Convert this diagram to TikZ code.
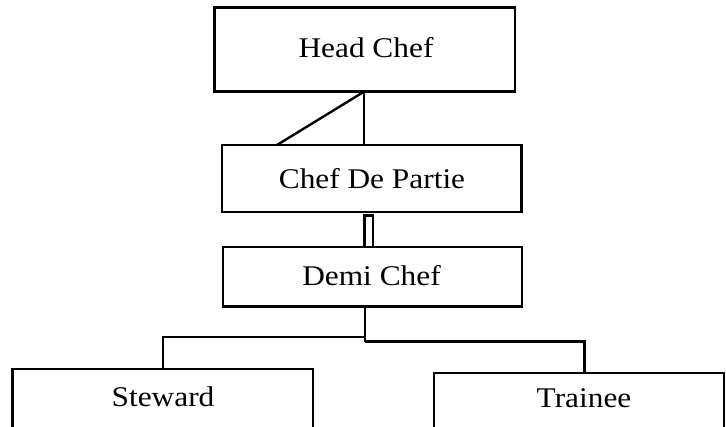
\documentclass[tikz,border=0pt]{standalone}
\usepackage{fontspec}
\setmainfont{Liberation Serif}[FakeStretch=1.1]
\begin{document}
\begin{tikzpicture}[x=1pt,y=-1pt,
  box/.style={draw=black, line width=2.4pt, inner sep=0pt, rectangle},
  lbl/.style={anchor=base, inner sep=0pt, font=\fontsize{28.5}{33}\selectfont},
  conn/.style={draw=black, line width=2.4pt}]
\useasboundingbox (0,0) rectangle (726,427);
\clip (0,0) rectangle (726,427);
% boxes
\node[box, minimum width=300.7pt, minimum height=84pt] (head) at (364.65,49.7) {};
\node[box, minimum width=299.5pt, minimum height=67pt] (cdp) at (371.75,178.5) {};
\node[box, minimum width=299pt, minimum height=59.5pt] (demi) at (372.5,276.75) {};
\node[box, minimum width=300.5pt, minimum height=80pt] (steward) at (162.75,409) {};
\node[box, minimum width=290pt, minimum height=80pt] (trainee) at (579,413) {};
\node[box, minimum width=8.3pt, minimum height=31.5pt] (link) at (368.65,231.25) {};
% labels
\node[lbl] (thead) at (366,58) {Head Chef};
\node[lbl] (tcdp) at (372,188.3) {Chef De Partie};
\node[lbl] (tdemi) at (371.5,285.7) {Demi Chef};
\node[lbl] (tsteward) at (163,406.7) {Steward};
\node[lbl] (ttrainee) at (584,407.7) {Trainee};
% connector points
\coordinate (hs) at (364,91.7);
\coordinate (cn) at (364,145);
\coordinate (cd) at (277,145);
\coordinate (ds) at (365.2,306.5);
\coordinate (j1) at (365.2,337.3);
\coordinate (j2) at (365.2,341.7);
\coordinate (sv) at (162.7,369);
\coordinate (tv) at (584.3,373);
% connectors
\draw[conn] (hs) -- (cn);
\draw[conn] (hs) -- (cd);
\draw[conn] (ds) -- (j2);
\draw[conn] (j1) -| (sv);
\draw[conn] (j2) -| (tv);
\end{tikzpicture}
\end{document}
